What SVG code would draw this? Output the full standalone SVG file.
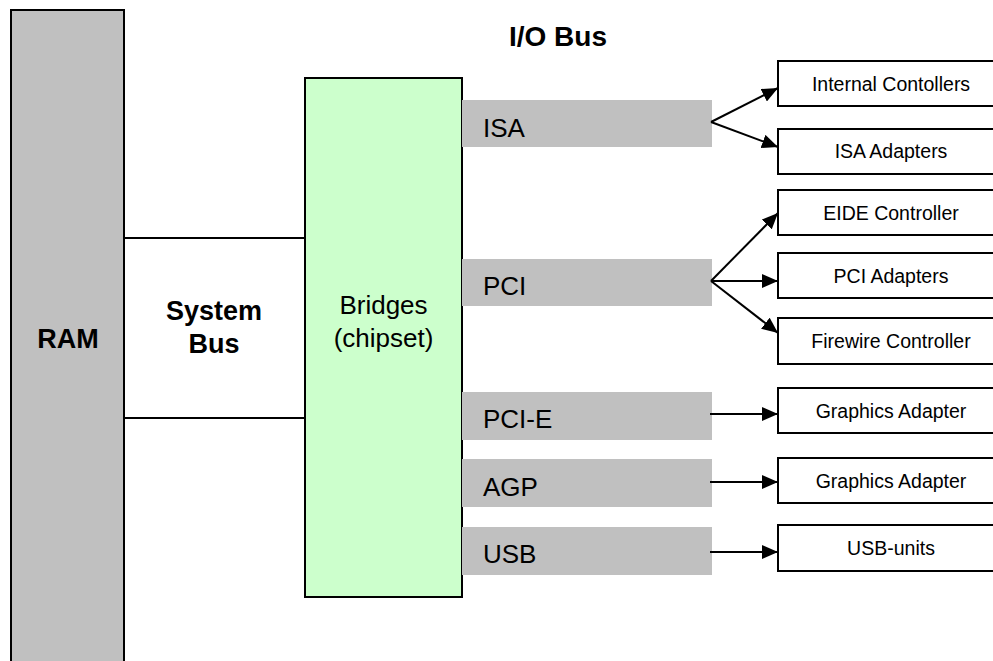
<svg xmlns="http://www.w3.org/2000/svg" width="993" height="661" viewBox="0 0 993 661">
<style>
text{font-family:"Liberation Sans",Arial,sans-serif;fill:#000}
.b{font-weight:bold}
.big{font-size:26px}
.sm{font-size:19.5px;text-anchor:middle}
.box{fill:#fff;stroke:#000;stroke-width:2}
.bar{fill:#c0c0c0}
.ln{stroke:#000;stroke-width:2;fill:none}
.ar{stroke:#000;stroke-width:2;fill:none;marker-end:url(#ah)}
</style>
<defs>
<marker id="ah" markerUnits="userSpaceOnUse" markerWidth="16" markerHeight="14" viewBox="0 0 16 14" refX="16" refY="7" orient="auto">
<path d="M0,0 L16,7 L0,14 Z" fill="#000"/>
</marker>
</defs>
<rect width="993" height="661" fill="#fff"/>
<g id="ram">
<rect x="11" y="10" width="113" height="700" fill="#c0c0c0" stroke="#000" stroke-width="2"/>
<text x="68" y="348" class="b" font-size="27" text-anchor="middle">RAM</text>
</g>
<g id="system-bus">
<text x="214" y="320" class="b" font-size="27" text-anchor="middle">System</text>
<text x="214" y="353" class="b" font-size="27" text-anchor="middle">Bus</text>
</g>
<g id="io-bus-title">
<text x="558" y="46" class="b" font-size="28" text-anchor="middle">I/O Bus</text>
</g>
<g id="bridges">
<rect x="305" y="78" width="157" height="519" fill="#ccffcc" stroke="#000" stroke-width="2"/>
<text x="383.5" y="314" class="big" text-anchor="middle">Bridges</text>
<text x="383.5" y="347" class="big" text-anchor="middle">(chipset)</text>
</g>
<g id="isa"><rect class="bar" x="462" y="100" width="250" height="47"/><text x="483" y="137" class="big">ISA</text></g>
<g id="pci"><rect class="bar" x="462" y="259" width="250" height="47"/><text x="483" y="295" class="big">PCI</text></g>
<g id="pcie"><rect class="bar" x="462" y="392" width="250" height="48"/><text x="483" y="428" class="big">PCI-E</text></g>
<g id="agp"><rect class="bar" x="462" y="459" width="250" height="48"/><text x="483" y="496" class="big">AGP</text></g>
<g id="usb"><rect class="bar" x="462" y="527" width="250" height="48"/><text x="483" y="563" class="big">USB</text></g>
<g id="internal-controllers"><rect class="box" x="778" y="61" width="226" height="45"/><text x="891" y="91" class="sm">Internal Contollers</text></g>
<g id="isa-adapters"><rect class="box" x="778" y="129" width="226" height="45"/><text x="891" y="158" class="sm">ISA Adapters</text></g>
<g id="eide-controller"><rect class="box" x="778" y="190" width="226" height="45"/><text x="891" y="220" class="sm">EIDE Controller</text></g>
<g id="pci-adapters"><rect class="box" x="778" y="253" width="226" height="45"/><text x="891" y="283" class="sm">PCI Adapters</text></g>
<g id="firewire-controller"><rect class="box" x="778" y="318" width="226" height="46"/><text x="891" y="348" class="sm">Firewire Controller</text></g>
<g id="graphics-adapter-1"><rect class="box" x="778" y="388" width="226" height="45"/><text x="891" y="418" class="sm">Graphics Adapter</text></g>
<g id="graphics-adapter-2"><rect class="box" x="778" y="458" width="226" height="45"/><text x="891" y="488" class="sm">Graphics Adapter</text></g>
<g id="usb-units"><rect class="box" x="778" y="525" width="226" height="46"/><text x="891" y="555" class="sm">USB-units</text></g>
<g id="connectors">
<line class="ln" x1="124" y1="238" x2="305" y2="238"/>
<line class="ln" x1="124" y1="418" x2="305" y2="418"/>
<line class="ar" x1="711" y1="122" x2="778" y2="88"/>
<line class="ar" x1="711" y1="122" x2="778" y2="147"/>
<line class="ar" x1="711" y1="281" x2="778" y2="213"/>
<line class="ar" x1="711" y1="281" x2="778" y2="281"/>
<line class="ar" x1="711" y1="281" x2="778" y2="333"/>
<line class="ar" x1="710" y1="414" x2="778" y2="414"/>
<line class="ar" x1="710" y1="482" x2="778" y2="482"/>
<line class="ar" x1="710" y1="552" x2="778" y2="552"/>
</g>
</svg>
